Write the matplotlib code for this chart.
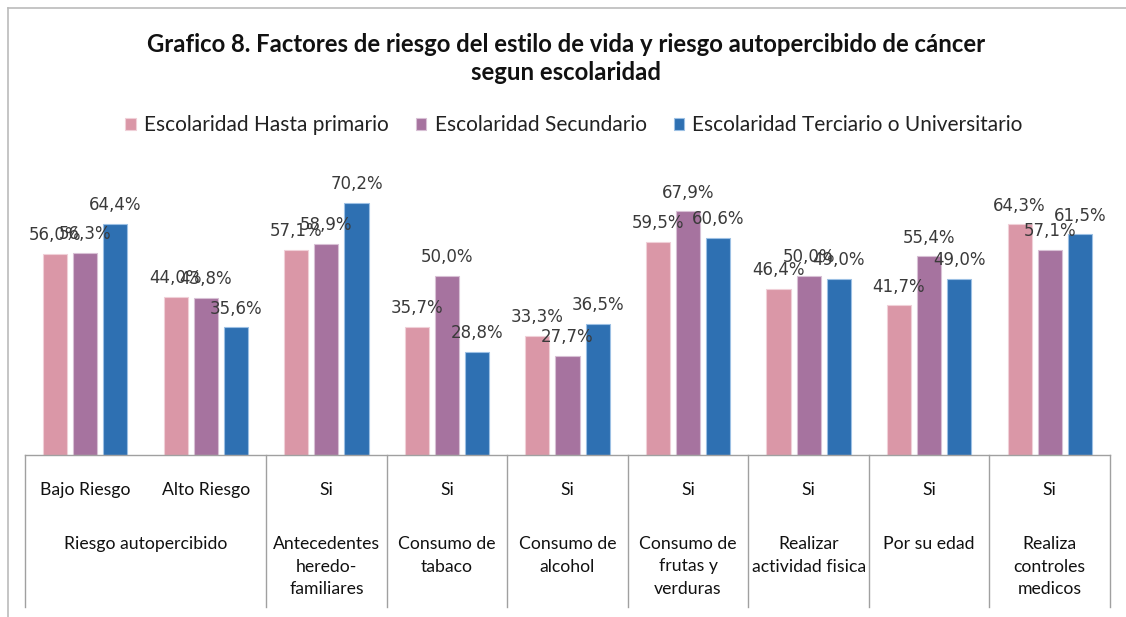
import numpy as np
import matplotlib
matplotlib.use("Agg")
import matplotlib.pyplot as plt
from matplotlib.transforms import blended_transform_factory

categorias = ["Bajo Riesgo", "Alto Riesgo", "Si", "Si", "Si", "Si", "Si", "Si", "Si"]
grupos = ["Riesgo autopercibido", "Antecedentes\nheredo-\nfamiliares", "Consumo de\ntabaco",
          "Consumo de\nalcohol", "Consumo de\nfrutas y\nverduras", "Realizar\nactividad fisica",
          "Por su edad", "Realiza\ncontroles\nmedicos"]
grupo_tam = [2, 1, 1, 1, 1, 1, 1, 1]

primario = [56.0, 44.0, 57.1, 35.7, 33.3, 59.5, 46.4, 41.7, 64.3]
secundario = [56.3, 43.8, 58.9, 50.0, 27.7, 67.9, 50.0, 55.4, 57.1]
terciario = [64.4, 35.6, 70.2, 28.8, 36.5, 60.6, 49.0, 49.0, 61.5]
series = ["Escolaridad Hasta primario", "Escolaridad Secundario",
          "Escolaridad Terciario o Universitario"]

colores = ["#DA97A7", "#A6739F", "#2E70B2"]
bordes = ["#F0D0D8", "#D8C0D5", "#9CC0E4"]

W, H = 1126, 617
fig = plt.figure(figsize=(W / 100, H / 100), dpi=100)

# plot area in pixels: x 25..1110, baseline y=455, top y=168 (80%)
ax = fig.add_axes([25 / W, 1 - 455 / H, (1110 - 25) / W, (455 - 168) / H])
ax.set_xlim(-0.5, len(categorias) - 0.5)
ax.set_ylim(0, 80)
for s in ax.spines.values():
    s.set_visible(False)
ax.set_xticks([])
ax.set_yticks([])

x = np.arange(len(categorias))
ancho = 0.2
for i, vals in enumerate([primario, secundario, terciario]):
    pos = x + (i - 1) * 0.25
    ax.bar(pos, vals, width=ancho, color=colores[i], edgecolor=bordes[i],
           linewidth=0.8, label=series[i])
    for px_, v in zip(pos, vals):
        ax.annotate(f"{v:.1f}%".replace(".", ","), (px_, v), xytext=(0, 7),
                    textcoords="offset points", ha="center", va="bottom",
                    fontsize=12, color="#3a3a3a", family="DejaVu Sans")

# category table under the axis
tr = blended_transform_factory(ax.transData, ax.transAxes)
gris = "#a0a0a0"
fondo = -152 / 287
ax.plot([-0.5, len(categorias) - 0.5], [0, 0], color=gris, lw=1, transform=tr, clip_on=False)
bordes_x = [-0.5]
acc = -0.5
for t in grupo_tam:
    acc += t
    bordes_x.append(acc)
for bx in bordes_x:
    ax.plot([bx, bx], [0, fondo], color=gris, lw=1, transform=tr, clip_on=False)

for xi, c in zip(x, categorias):
    ax.text(xi, -35 / 287, c, transform=tr, ha="center", va="center",
            fontsize=12.7, family="Lato", color="#111111")

inicio = -0.5
for g, t in zip(grupos, grupo_tam):
    ax.text(inicio + t / 2, -81 / 287, g, transform=tr, ha="center", va="top",
            fontsize=12.7, family="Lato", color="#111111", linespacing=1.5)
    inicio += t

fig.text(566 / W, 1 - 45 / H, "Grafico 8. Factores de riesgo del estilo de vida y riesgo autopercibido de cáncer",
         ha="center", va="center", fontsize=17.2, fontweight="bold", family="Lato", color="#111111")
fig.text(566 / W, 1 - 73 / H, "segun escolaridad",
         ha="center", va="center", fontsize=17.2, fontweight="bold", family="Lato", color="#111111")

leg = fig.legend(loc="center", bbox_to_anchor=(574 / W, 1 - 125 / H), ncol=3, frameon=False,
                 handlelength=0.5, handleheight=0.5, handletextpad=0.4, columnspacing=1.3,
                 prop={"family": "Lato", "size": 15})
for tx in leg.get_texts():
    tx.set_color("#222222")

# outer chart border
fig.add_artist(plt.Line2D([8 / W, 8 / W], [0, 1 - 8 / H], color="#bbbbbb", lw=1.2))
fig.add_artist(plt.Line2D([8 / W, 1], [1 - 8 / H, 1 - 8 / H], color="#bbbbbb", lw=1.2))

fig.savefig("out.png", dpi=100)
